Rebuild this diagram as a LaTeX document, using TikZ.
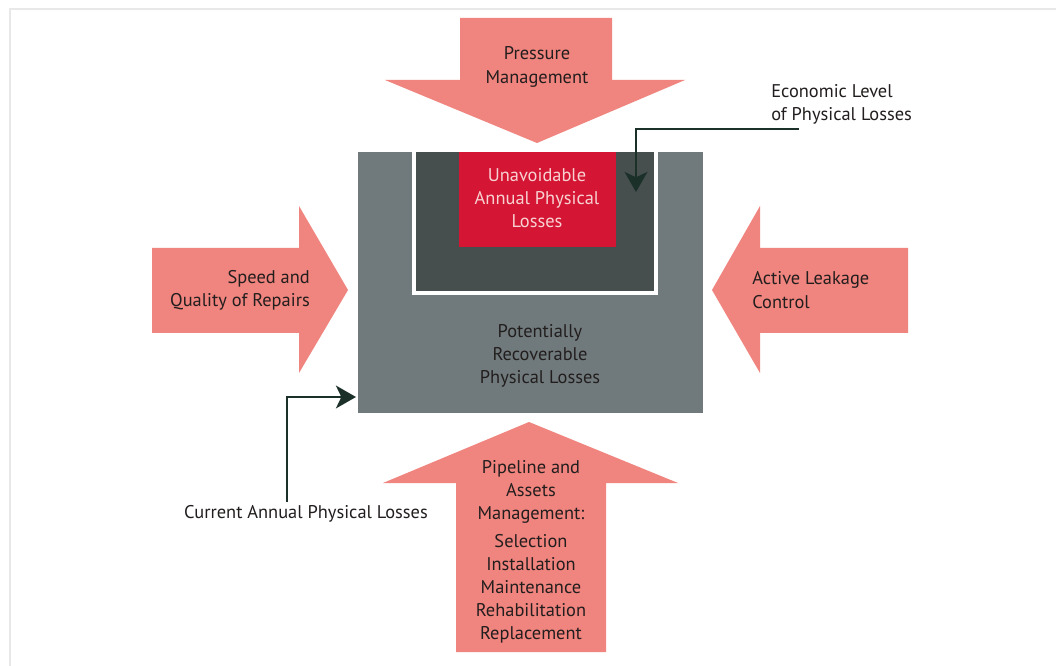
\documentclass[tikz,border=0pt]{standalone}
\usepackage{fontspec}
\setmainfont{PT Sans}
\usetikzlibrary{arrows.meta,fit}
\definecolor{salmon}{RGB}{240,132,126}
\definecolor{lossgray}{RGB}{112,122,124}
\definecolor{lossdark}{RGB}{70,78,78}
\definecolor{lossred}{RGB}{212,22,52}
\definecolor{inktext}{RGB}{35,30,30}
\definecolor{connink}{RGB}{28,48,42}
\definecolor{pinktext}{RGB}{248,210,210}
\begin{document}
\begin{tikzpicture}[x=0.75pt,y=-0.75pt,
  lbl/.style={font=\fontsize{13.8}{17.4}\selectfont, text=inktext, align=center, inner sep=0pt},
  conn/.style={draw=connink, line width=2.2pt, -{Stealth[length=15pt,width=17pt,inset=4pt]}},
  region/.style={inner sep=0pt, draw=none}
]
\useasboundingbox (0,0) rectangle (1056,666);
\fill[white] (0,0) rectangle (1056,666);
% page frame
\draw[black!9, line width=1pt] (1056,9) -- (10,9) -- (10,666);

% four big arrows
\fill[salmon] (460,18) -- (612,18) -- (612,80) -- (685,80) -- (537,143) -- (385,80) -- (460,80) -- cycle;
\fill[salmon] (152,248) -- (299,248) -- (299,206) -- (348,290) -- (299,373) -- (299,333) -- (152,333) -- cycle;
\fill[salmon] (908,248) -- (760,248) -- (760,206) -- (712,290) -- (760,373) -- (760,333) -- (908,333) -- cycle;
\fill[salmon] (456,652) -- (606,652) -- (606,483) -- (678,483) -- (529,422) -- (383,483) -- (456,483) -- cycle;

% nested loss regions
\coordinate (o1) at (358,152); \coordinate (o2) at (703,413);
\node[region, fill=lossgray, fit=(o1)(o2)] (outer) {};
\coordinate (i1) at (414,152); \coordinate (i2) at (656,293);
\node[region, fill=lossdark, fit=(i1)(i2)] (inner) {};
\draw[white, line width=3pt] (inner.north west) -- (inner.south west) -- (inner.south east) -- (inner.north east);
\coordinate (r1) at (459,152); \coordinate (r2) at (616,247);
\node[region, fill=lossred, fit=(r1)(r2)] (unavoid) {};

% texts
\node[lbl, text=pinktext] (uav) at (537,198) {Unavoidable\\Annual Physical\\Losses};
\node[lbl] (prl) at (540,356) {Potentially\\Recoverable\\Physical Losses};
\node[lbl] (pm) at (537,67) {Pressure\\Management};
\node[lbl, align=right, anchor=east] (sq) at (310,290) {Speed and\\Quality of Repairs};
\node[lbl, align=left, anchor=west] (alc) at (752,290) {Active Leakage\\Control};
\node[lbl] (pam) at (531,552) {Pipeline and\\Assets\\Management:\\[3pt]Selection\\Installation\\Maintenance\\Rehabilitation\\Replacement};
\node[lbl, align=left, anchor=west] (econ) at (771,104) {Economic Level\\of Physical Losses};
\node[lbl] (cur) at (306,514) {Current Annual Physical Losses};

% callout connectors
\coordinate (econ-foot) at (799,129);
\coordinate (econ-tip) at (636,192);
\draw[conn] (econ-foot) -| (econ-tip);
\coordinate (cur-foot) at (287,502);
\coordinate (cur-tip) at (356,397);
\draw[conn] (cur-foot) |- (cur-tip);
\end{tikzpicture}
\end{document}
